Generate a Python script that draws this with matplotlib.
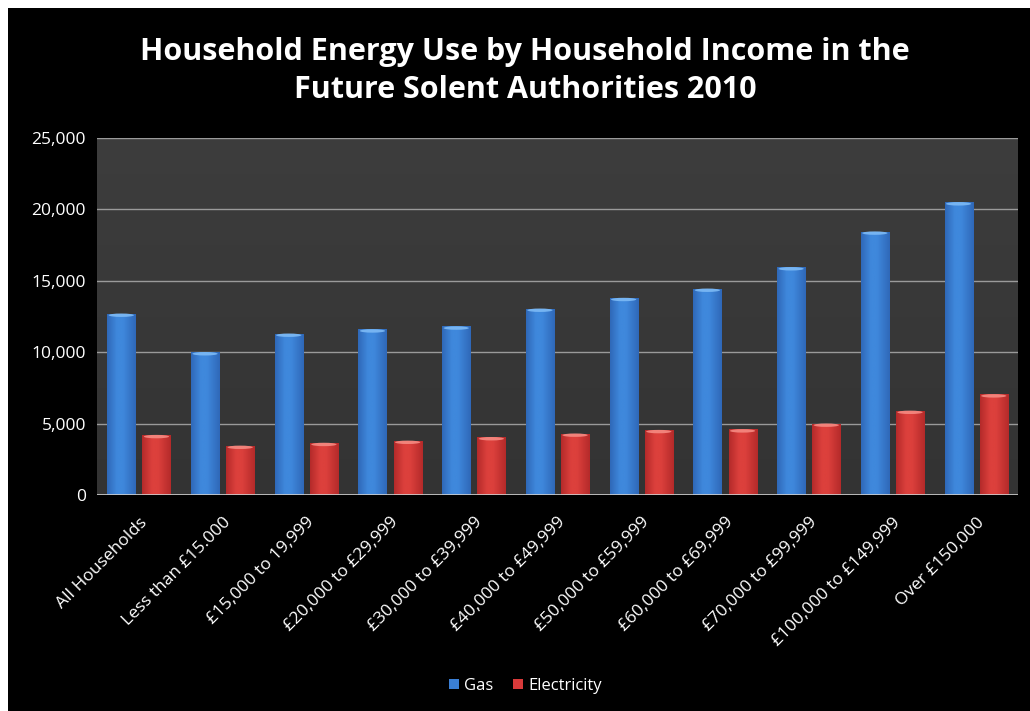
import numpy as np
import matplotlib
matplotlib.use("Agg")
import matplotlib.pyplot as plt
from matplotlib.patches import Rectangle, Ellipse
from matplotlib.colors import LinearSegmentedColormap

categories = [
    "All Households", "Less than £15.000", "£15,000 to 19,999",
    "£20,000 to £29,999", "£30,000 to £39,999", "£40,000 to £49,999",
    "£50,000 to £59,999", "£60,000 to £69,999", "£70,000 to £99,999",
    "£100,000 to £149,999", "Over £150,000",
]
gas = [12700, 10000, 11300, 11600, 11800, 13050, 13800, 14450, 15950, 18450, 20500]
electricity = [4200, 3450, 3650, 3800, 4050, 4300, 4550, 4600, 5000, 5900, 7050]
y_ticks = [0, 5000, 10000, 15000, 20000, 25000]
title = "Household Energy Use by Household Income in the\nFuture Solent Authorities 2010"

FONT = ["Open Sans", "DejaVu Sans"]
plt.rcParams["font.family"] = FONT

fig = plt.figure(figsize=(10.30, 7.11), dpi=100)
fig.patch.set_facecolor("white")
# black chart panel with a thin white margin on the top and left
fig.add_artist(Rectangle((8 / 1030, 0), 1, 1 - 8 / 711, transform=fig.transFigure,
                         facecolor="black", edgecolor="none", zorder=0))

ax = fig.add_axes([97 / 1030, 1 - 495 / 711, (1018 - 97) / 1030, (495 - 138) / 711])
ax.set_facecolor("#383838")
n = len(categories)
ax.set_xlim(0, n)
ax.set_ylim(0, 25000)

# plot-area background gradient
bg = np.linspace(0, 1, 256).reshape(-1, 1)
bg_cmap = LinearSegmentedColormap.from_list("bg", ["#333333", "#3d3d3d"])
ax.imshow(bg, extent=(0, n, 0, 25000), origin="lower", aspect="auto",
          cmap=bg_cmap, zorder=0)

for y in y_ticks[1:]:
    ax.axhline(y, color="#9a9a9a", lw=1.0, zorder=1)
ax.axhline(0, color="#d0d0d0", lw=1.2, zorder=4)

width = 0.335
offset = 0.21
x = np.arange(n) + 0.5

shade = np.concatenate([np.linspace(0.0, 1.0, 35), np.ones(20),
                        np.linspace(1.0, 0.0, 45)]).reshape(1, -1)
cmaps = {
    "gas": LinearSegmentedColormap.from_list("g", ["#2f68b8", "#3f88dc"]),
    "elec": LinearSegmentedColormap.from_list("e", ["#b42a2a", "#dc403c"]),
}
tops = {"gas": "#7dbaf5", "elec": "#f58a82"}

def draw_series(xs, values, color, key, label):
    bars = ax.bar(xs, values, width=width, color=color, zorder=2, label=label)
    for b in bars:
        x0, w, h = b.get_x(), b.get_width(), b.get_height()
        im = ax.imshow(shade, extent=(x0, x0 + w, 0, h), aspect="auto",
                       cmap=cmaps[key], zorder=3)
        im.set_clip_path(b)
        ax.add_patch(Ellipse((x0 + w / 2, h - 110), w * 0.9, 240,
                             facecolor=tops[key], edgecolor="none",
                             alpha=0.9, zorder=3.5))
    return bars

draw_series(x - offset, gas, "#3a7fd5", "gas", "Gas")
draw_series(x + offset, electricity, "#d83a3a", "elec", "Electricity")

ax.set_yticks(y_ticks)
ax.set_yticklabels([f"{v:,}" for v in y_ticks], color="white", fontsize=12.5)
ax.set_xticks(x)
ax.set_xticklabels(categories, rotation=45, ha="right", va="top",
                   rotation_mode="anchor", color="white", fontsize=12.5)
ax.tick_params(axis="both", length=0, pad=8)
ax.tick_params(axis="x", pad=14)
for s in ax.spines.values():
    s.set_visible(False)

fig.text(0.51, 1 - 71 / 711, title, ha="center", va="center", color="white",
         fontsize=22, fontweight="bold", linespacing=1.35)

leg = fig.legend(loc="center", bbox_to_anchor=(0.51, 1 - 686 / 711), ncol=2,
                 frameon=False, fontsize=12, handlelength=0.6, handleheight=0.6,
                 handletextpad=0.3, columnspacing=1.2)
for t in leg.get_texts():
    t.set_color("white")

fig.savefig("out.png", dpi=100, facecolor=fig.get_facecolor())
